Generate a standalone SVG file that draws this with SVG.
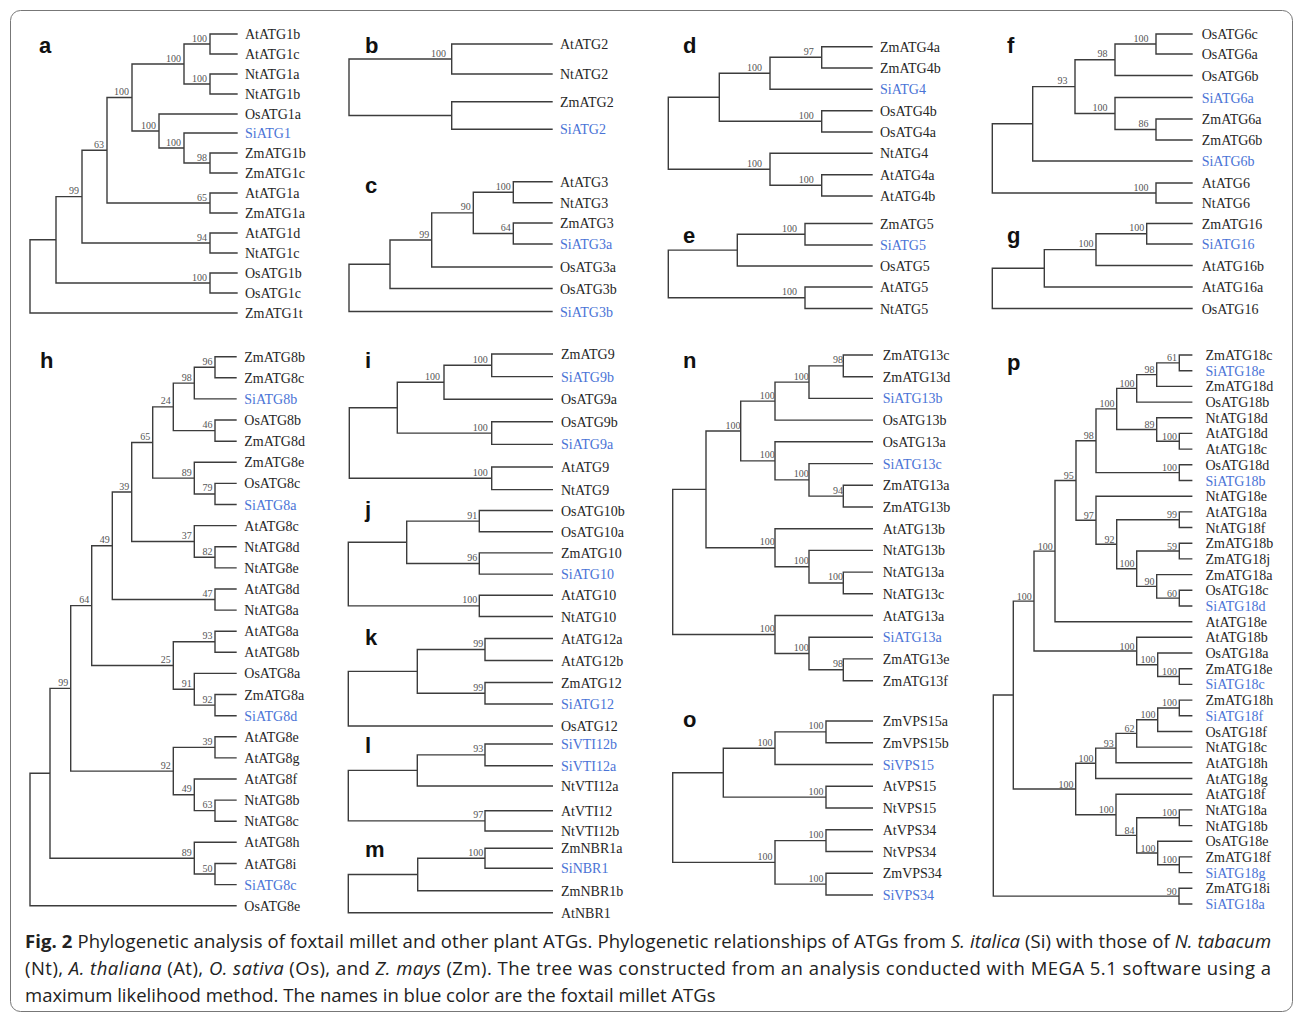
<svg xmlns="http://www.w3.org/2000/svg" width="1295" height="1014" viewBox="0 0 1295 1014">
<style>
.br{fill:none;stroke:#3c3c3c;stroke-width:1.4;stroke-linecap:square;stroke-linejoin:miter}
.lf{font-family:"Liberation Serif",serif;font-size:14px;fill:#262626}
.si{fill:#4a73d6}
.bs{font-family:"Liberation Serif",serif;font-size:10px;fill:#555;text-anchor:end}
.pl{font-family:"Liberation Sans",sans-serif;font-weight:bold;font-size:22px;fill:#111}
.cap{font-family:"Open Sans",sans-serif;font-size:18.5px;fill:#222}
.it{font-style:italic}
</style>
<rect x="10.5" y="10.5" width="1282" height="1001" rx="10" fill="#fff" stroke="#777" stroke-width="1"/>
<g id="connectors">
<path id="br-a" class="br" d="M237 34H210V54H237M237 74H210V94H237M210 44H184V84H210M237 153H210V173H237M237 133H184V163H210M237 114H159V148H184M184 64H132V131H159M237 193H210V213H237M132 97.5H107V203H210M237 233H210V253H237M107 150.25H82V243H210M237 273H210V293H237M82 196.6H56V283H210M56 239.8H30V313H237"/>
<path id="br-b" class="br" d="M552 44H451.7V74H552M552 101.7H451.7V129.3H552M451.7 59H349V115.5H451.7"/>
<path id="br-c" class="br" d="M552 181.7H513.3V202.7H552M552 223H513.3V244H552M513.3 192.2H473.3V233.5H513.3M473.3 212.9H431.7V267H552M431.7 240H390V288.5H552M390 264.2H349V311.5H552"/>
<path id="br-d" class="br" d="M872 46.7H821.7V68H872M821.7 57.3H770V89.3H872M872 110.7H821.7V132H872M770 73.3H719.3V121.3H821.7M872 174.7H821.7V196H872M872 153.3H770V185.3H821.7M719.3 97.3H668.3V169.3H770"/>
<path id="br-e" class="br" d="M872 223.5H805V245H872M805 234.25H737.3V266H872M872 287H805V308.5H872M737.3 250.1H668.3V297.75H805"/>
<path id="br-f" class="br" d="M1192 34H1156V54H1192M1156 44H1115V75.5H1192M1192 119H1156V140H1192M1192 97.5H1115V129.5H1156M1115 59.75H1075V113.5H1115M1075 86.6H1032.7V161H1192M1192 183H1156V203H1192M1032.7 123.8H992.3V193H1156"/>
<path id="br-g" class="br" d="M1192 223.5H1146.7V244H1192M1146.7 233.75H1096V265.5H1192M1096 249.6H1044.3V287H1192M1044.3 268.3H992.3V308.5H1192"/>
<path id="br-h" class="br" d="M236 356.7H215V377.8H236M215 367.25H194.3V398.9H236M236 420H215V441.2H236M194.3 383.1H173.3V430.6H215M236 483.4H215V504.5H236M236 462.3H194.3V493.95H215M173.3 406.85H152.7V478.1H194.3M236 546.7H215V567.9H236M236 525.6H194.3V557.3H215M152.7 442.5H131.7V541.45H194.3M236 589H215V610.1H236M131.7 492H112.3V599.55H215M236 631.2H215V652.3H236M236 694.5H215V715.7H236M236 673.4H194.3V705.1H215M215 641.75H173.3V689.25H194.3M112.3 545.8H91.7V665.5H173.3M236 736.8H215V757.9H236M236 800.1H215V821.2H236M236 779H194.3V810.65H215M215 747.35H173.3V794.8H194.3M91.7 605.65H70.7V771.1H173.3M236 863.5H215V884.6H236M236 842.3H194.3V874.05H215M70.7 688.4H50V858.2H194.3M50 773.3H30V905.7H236"/>
<path id="br-i" class="br" d="M552.3 354H491.7V376.6H552.3M491.7 365.3H444V399.2H552.3M552.3 421.8H491.7V444.4H552.3M444 382.25H397.3V433.1H491.7M552.3 467H491.7V489.6H552.3M397.3 407.7H349.3V478.3H491.7"/>
<path id="br-j" class="br" d="M552.3 510.5H479.3V531.7H552.3M552.3 552.9H479.3V574.1H552.3M479.3 521.1H406.7V563.5H479.3M552.3 595.3H479.3V616.5H552.3M406.7 542.3H348.3V605.9H479.3"/>
<path id="br-k" class="br" d="M552.3 638.5H485V660.5H552.3M552.3 682.5H485V704H552.3M485 649.5H417.3V693.25H485M417.3 671.4H348.3V726H552.3"/>
<path id="br-l" class="br" d="M552.3 744H485V765.7H552.3M485 754.85H417.3V786H552.3M552.3 810.7H485V831H552.3M417.3 770.4H348.3V820.85H485"/>
<path id="br-m" class="br" d="M552.3 848.3H485V868.3H552.3M485 858.3H417.7V890.7H552.3M417.7 874.5H348.3V912.7H552.3"/>
<path id="br-n" class="br" d="M872.3 355H843.3V376.7H872.3M843.3 365.85H809V398.4H872.3M809 382.1H775V420.1H872.3M872.3 485.3H843.3V507H872.3M872.3 463.6H809V496.15H843.3M872.3 441.8H775V479.9H809M775 401.1H740.7V460.85H775M872.3 572.1H843.3V593.8H872.3M872.3 550.4H809V582.95H843.3M872.3 528.7H775V566.7H809M740.7 431H706V547.7H775M872.3 658.9H843.3V680.7H872.3M872.3 637.2H809V669.8H843.3M872.3 615.5H775V653.5H809M706 489.35H672.7V634.5H775"/>
<path id="br-o" class="br" d="M872.3 721H826V742.75H872.3M826 731.9H775V764.5H872.3M872.3 786.25H826V808H872.3M775 748.2H723.3V797.1H826M872.3 829.75H826V851.5H872.3M872.3 873.25H826V895H872.3M826 840.6H775V884.1H826M723.3 772.7H672.7V862.4H775"/>
<path id="br-p" class="br" d="M1191.7 355H1179.3V370.7H1191.7M1179.3 362.85H1156.7V386.4H1191.7M1156.7 374.6H1136.7V402.1H1191.7M1191.7 433.4H1179.3V449.1H1191.7M1191.7 417.7H1156.7V441.25H1179.3M1136.7 388.35H1116.7V429.5H1156.7M1191.7 464.8H1179.3V480.5H1191.7M1116.7 408.9H1096V472.65H1179.3M1191.7 511.9H1179.3V527.5H1191.7M1191.7 543.2H1179.3V558.9H1191.7M1191.7 590.3H1179.3V606H1191.7M1191.7 574.6H1156.7V598.15H1179.3M1179.3 551.05H1136.7V586.4H1156.7M1179.3 519.7H1116.7V568.7H1136.7M1191.7 496.2H1096V544.2H1116.7M1096 440.8H1076V520.2H1096M1076 480.5H1055V621.7H1191.7M1191.7 668.7H1179.3V684.4H1191.7M1191.7 653H1157.7V676.55H1179.3M1191.7 637.3H1136.7V664.8H1157.7M1055 551.1H1034V651.05H1136.7M1191.7 700.1H1179.3V715.8H1191.7M1179.3 707.95H1157.7V731.5H1191.7M1157.7 719.7H1136.7V747.1H1191.7M1136.7 733.4H1116V762.8H1191.7M1116 748.1H1095.7V778.5H1191.7M1191.7 809.9H1179.3V825.6H1191.7M1191.7 856.9H1179.3V872.6H1191.7M1191.7 841.3H1157.7V864.75H1179.3M1179.3 817.75H1136.7V853H1157.7M1191.7 794.2H1116V835.4H1136.7M1095.7 763.3H1075.7V814.8H1116M1034 601.1H1013.3V789H1075.7M1191.7 888.3H1179V904H1191.7M1013.3 695H993.3V896.15H1179"/>
</g>
<g id="panel-a">
<text class="pl" x="39" y="53">a</text>
<g class="lf">
<text x="245" y="39">AtATG1b</text><text x="245" y="59">AtATG1c</text><text x="245" y="79">NtATG1a</text><text x="245" y="99">NtATG1b</text><text x="245" y="119">OsATG1a</text><text x="245" y="138" class="si">SiATG1</text><text x="245" y="158">ZmATG1b</text><text x="245" y="178">ZmATG1c</text><text x="245" y="198">AtATG1a</text><text x="245" y="218">ZmATG1a</text><text x="245" y="238">AtATG1d</text><text x="245" y="258">NtATG1c</text><text x="245" y="278">OsATG1b</text><text x="245" y="298">OsATG1c</text><text x="245" y="318">ZmATG1t</text>
</g>
<g class="bs">
<text x="207" y="41.5">100</text><text x="207" y="81.5">100</text><text x="181" y="61.5">100</text><text x="207" y="160.5">98</text><text x="181" y="145.5">100</text><text x="156" y="128.5">100</text><text x="129" y="95">100</text><text x="207" y="200.5">65</text><text x="104" y="147.8">63</text><text x="207" y="240.5">94</text><text x="79" y="194.1">99</text><text x="207" y="280.5">100</text>
</g>
</g>
<g id="panel-b">
<text class="pl" x="365" y="53">b</text>
<g class="lf">
<text x="560" y="49">AtATG2</text><text x="560" y="79">NtATG2</text><text x="560" y="106.7">ZmATG2</text><text x="560" y="134.3" class="si">SiATG2</text>
</g>
<g class="bs"><text x="446" y="56.5">100</text></g>
</g>
<g id="panel-c">
<text class="pl" x="365" y="193">c</text>
<g class="lf">
<text x="560" y="186.7">AtATG3</text><text x="560" y="207.7">NtATG3</text><text x="560" y="228">ZmATG3</text><text x="560" y="249" class="si">SiATG3a</text><text x="560" y="272">OsATG3a</text><text x="560" y="293.5">OsATG3b</text><text x="560" y="316.5" class="si">SiATG3b</text>
</g>
<g class="bs">
<text x="510.8" y="189.7">100</text><text x="510.8" y="231">64</text><text x="470.8" y="210.4">90</text><text x="429.2" y="237.5">99</text>
</g>
</g>
<g id="panel-d">
<text class="pl" x="683" y="53">d</text>
<g class="lf">
<text x="880" y="51.7">ZmATG4a</text><text x="880" y="73">ZmATG4b</text><text x="880" y="94.3" class="si">SiATG4</text><text x="880" y="115.7">OsATG4b</text><text x="880" y="137">OsATG4a</text><text x="880" y="158.3">NtATG4</text><text x="880" y="179.7">AtATG4a</text><text x="880" y="201">AtATG4b</text>
</g>
<g class="bs">
<text x="813.7" y="54.8">97</text><text x="762" y="70.8">100</text><text x="813.7" y="118.8">100</text><text x="813.7" y="182.8">100</text><text x="762" y="166.8">100</text>
</g>
</g>
<g id="panel-e">
<text class="pl" x="683" y="243">e</text>
<g class="lf">
<text x="880" y="228.5">ZmATG5</text><text x="880" y="250" class="si">SiATG5</text><text x="880" y="271">OsATG5</text><text x="880" y="292">AtATG5</text><text x="880" y="313.5">NtATG5</text>
</g>
<g class="bs"><text x="797" y="231.75">100</text><text x="797" y="295.25">100</text></g>
</g>
<g id="panel-f">
<text class="pl" x="1007" y="53">f</text>
<g class="lf">
<text x="1201.7" y="39">OsATG6c</text><text x="1201.7" y="59">OsATG6a</text><text x="1201.7" y="80.5">OsATG6b</text><text x="1201.7" y="102.5" class="si">SiATG6a</text><text x="1201.7" y="124">ZmATG6a</text><text x="1201.7" y="145">ZmATG6b</text><text x="1201.7" y="166" class="si">SiATG6b</text><text x="1201.7" y="188">AtATG6</text><text x="1201.7" y="208">NtATG6</text>
</g>
<g class="bs">
<text x="1148.5" y="41.5">100</text><text x="1107.5" y="57.25">98</text><text x="1148.5" y="127">86</text><text x="1107.5" y="111">100</text><text x="1067.5" y="84.1">93</text><text x="1148.5" y="190.5">100</text>
</g>
</g>
<g id="panel-g">
<text class="pl" x="1007" y="243">g</text>
<g class="lf">
<text x="1201.7" y="228.5">ZmATG16</text><text x="1201.7" y="249" class="si">SiATG16</text><text x="1201.7" y="270.5">AtATG16b</text><text x="1201.7" y="292">AtATG16a</text><text x="1201.7" y="313.5">OsATG16</text>
</g>
<g class="bs"><text x="1144.2" y="231.25">100</text><text x="1093.5" y="247.1">100</text></g>
</g>
<g id="panel-h">
<text class="pl" x="40" y="368">h</text>
<g class="lf">
<text x="244.3" y="361.7">ZmATG8b</text><text x="244.3" y="382.8">ZmATG8c</text><text x="244.3" y="403.9" class="si">SiATG8b</text><text x="244.3" y="425">OsATG8b</text><text x="244.3" y="446.2">ZmATG8d</text><text x="244.3" y="467.3">ZmATG8e</text><text x="244.3" y="488.4">OsATG8c</text><text x="244.3" y="509.5" class="si">SiATG8a</text><text x="244.3" y="530.6">AtATG8c</text><text x="244.3" y="551.7">NtATG8d</text><text x="244.3" y="572.9">NtATG8e</text><text x="244.3" y="594">AtATG8d</text><text x="244.3" y="615.1">NtATG8a</text><text x="244.3" y="636.2">AtATG8a</text><text x="244.3" y="657.3">AtATG8b</text><text x="244.3" y="678.4">OsATG8a</text><text x="244.3" y="699.5">ZmATG8a</text><text x="244.3" y="720.7" class="si">SiATG8d</text><text x="244.3" y="741.8">AtATG8e</text><text x="244.3" y="762.9">AtATG8g</text><text x="244.3" y="784">AtATG8f</text><text x="244.3" y="805.1">NtATG8b</text><text x="244.3" y="826.2">NtATG8c</text><text x="244.3" y="847.3">AtATG8h</text><text x="244.3" y="868.5">AtATG8i</text><text x="244.3" y="889.6" class="si">SiATG8c</text><text x="244.3" y="910.7">OsATG8e</text>
</g>
<g class="bs">
<text x="212.5" y="364.75">96</text><text x="191.8" y="380.6">98</text><text x="212.5" y="428.1">46</text><text x="170.8" y="404.35">24</text><text x="212.5" y="491.45">79</text><text x="191.8" y="475.6">89</text><text x="150.2" y="440">65</text><text x="212.5" y="554.8">82</text><text x="191.8" y="538.95">37</text><text x="129.2" y="489.5">39</text><text x="212.5" y="597.05">47</text><text x="109.8" y="543.3">49</text><text x="212.5" y="639.25">93</text><text x="212.5" y="702.6">92</text><text x="191.8" y="686.75">91</text><text x="170.8" y="663">25</text><text x="89.2" y="603.15">64</text><text x="212.5" y="744.85">39</text><text x="212.5" y="808.15">63</text><text x="191.8" y="792.3">49</text><text x="170.8" y="768.6">92</text><text x="68.2" y="685.9">99</text><text x="212.5" y="871.55">50</text><text x="191.8" y="855.7">89</text>
</g>
</g>
<g id="panel-i">
<text class="pl" x="365" y="368">i</text>
<g class="lf">
<text x="561" y="359">ZmATG9</text><text x="561" y="381.6" class="si">SiATG9b</text><text x="561" y="404.2">OsATG9a</text><text x="561" y="426.8">OsATG9b</text><text x="561" y="449.4" class="si">SiATG9a</text><text x="561" y="472">AtATG9</text><text x="561" y="494.6">NtATG9</text>
</g>
<g class="bs"><text x="487.7" y="362.8">100</text><text x="440" y="379.75">100</text><text x="487.7" y="430.6">100</text><text x="487.7" y="475.8">100</text></g>
</g>
<g id="panel-j">
<text class="pl" x="365" y="517">j</text>
<g class="lf">
<text x="561" y="515.5">OsATG10b</text><text x="561" y="536.7">OsATG10a</text><text x="561" y="557.9">ZmATG10</text><text x="561" y="579.1" class="si">SiATG10</text><text x="561" y="600.3">AtATG10</text><text x="561" y="621.5">NtATG10</text>
</g>
<g class="bs"><text x="477.3" y="518.6">91</text><text x="477.3" y="561">96</text><text x="477.3" y="603.4">100</text></g>
</g>
<g id="panel-k">
<text class="pl" x="365" y="645">k</text>
<g class="lf">
<text x="561" y="643.5">AtATG12a</text><text x="561" y="665.5">AtATG12b</text><text x="561" y="687.5">ZmATG12</text><text x="561" y="709" class="si">SiATG12</text><text x="561" y="731">OsATG12</text>
</g>
<g class="bs"><text x="483.3" y="647">99</text><text x="483.3" y="690.75">99</text></g>
</g>
<g id="panel-l">
<text class="pl" x="365" y="753">l</text>
<g class="lf">
<text x="561" y="749" class="si">SiVTI12b</text><text x="561" y="770.7" class="si">SiVTI12a</text><text x="561" y="791">NtVTI12a</text><text x="561" y="815.7">AtVTI12</text><text x="561" y="836">NtVTI12b</text>
</g>
<g class="bs"><text x="483.3" y="752.35">93</text><text x="483.3" y="818.35">97</text></g>
</g>
<g id="panel-m">
<text class="pl" x="365" y="857">m</text>
<g class="lf">
<text x="561" y="853.3">ZmNBR1a</text><text x="561" y="873.3" class="si">SiNBR1</text><text x="561" y="895.7">ZmNBR1b</text><text x="561" y="917.7">AtNBR1</text>
</g>
<g class="bs"><text x="483.3" y="855.8">100</text></g>
</g>
<g id="panel-n">
<text class="pl" x="683" y="368">n</text>
<g class="lf">
<text x="882.7" y="360">ZmATG13c</text><text x="882.7" y="381.7">ZmATG13d</text><text x="882.7" y="403.4" class="si">SiATG13b</text><text x="882.7" y="425.1">OsATG13b</text><text x="882.7" y="446.8">OsATG13a</text><text x="882.7" y="468.6" class="si">SiATG13c</text><text x="882.7" y="490.3">ZmATG13a</text><text x="882.7" y="512">ZmATG13b</text><text x="882.7" y="533.7">AtATG13b</text><text x="882.7" y="555.4">NtATG13b</text><text x="882.7" y="577.1">NtATG13a</text><text x="882.7" y="598.8">NtATG13c</text><text x="882.7" y="620.5">AtATG13a</text><text x="882.7" y="642.2" class="si">SiATG13a</text><text x="882.7" y="663.9">ZmATG13e</text><text x="882.7" y="685.7">ZmATG13f</text>
</g>
<g class="bs">
<text x="843" y="363.35">98</text><text x="808.7" y="379.6">100</text><text x="774.7" y="398.6">100</text><text x="843" y="493.65">94</text><text x="808.7" y="477.4">100</text><text x="774.7" y="458.35">100</text><text x="740.4" y="428.5">100</text><text x="843" y="580.45">100</text><text x="808.7" y="564.2">100</text><text x="774.7" y="545.2">100</text><text x="843" y="667.3">98</text><text x="808.7" y="651">100</text><text x="774.7" y="632">100</text>
</g>
</g>
<g id="panel-o">
<text class="pl" x="683" y="727">o</text>
<g class="lf">
<text x="882.7" y="726">ZmVPS15a</text><text x="882.7" y="747.75">ZmVPS15b</text><text x="882.7" y="769.5" class="si">SiVPS15</text><text x="882.7" y="791.25">AtVPS15</text><text x="882.7" y="813">NtVPS15</text><text x="882.7" y="834.75">AtVPS34</text><text x="882.7" y="856.5">NtVPS34</text><text x="882.7" y="878.25">ZmVPS34</text><text x="882.7" y="900" class="si">SiVPS34</text>
</g>
<g class="bs">
<text x="823.5" y="729.4">100</text><text x="772.5" y="745.7">100</text><text x="823.5" y="794.6">100</text><text x="823.5" y="838.1">100</text><text x="823.5" y="881.6">100</text><text x="772.5" y="859.9">100</text>
</g>
</g>
<g id="panel-p">
<text class="pl" x="1007" y="370">p</text>
<g class="lf">
<text x="1205.5" y="360">ZmATG18c</text><text x="1205.5" y="375.7" class="si">SiATG18e</text><text x="1205.5" y="391.4">ZmATG18d</text><text x="1205.5" y="407.1">OsATG18b</text><text x="1205.5" y="422.7">NtATG18d</text><text x="1205.5" y="438.4">AtATG18d</text><text x="1205.5" y="454.1">AtATG18c</text><text x="1205.5" y="469.8">OsATG18d</text><text x="1205.5" y="485.5" class="si">SiATG18b</text><text x="1205.5" y="501.2">NtATG18e</text><text x="1205.5" y="516.9">AtATG18a</text><text x="1205.5" y="532.5">NtATG18f</text><text x="1205.5" y="548.2">ZmATG18b</text><text x="1205.5" y="563.9">ZmATG18j</text><text x="1205.5" y="579.6">ZmATG18a</text><text x="1205.5" y="595.3">OsATG18c</text><text x="1205.5" y="611" class="si">SiATG18d</text><text x="1205.5" y="626.7">AtATG18e</text><text x="1205.5" y="642.3">AtATG18b</text><text x="1205.5" y="658">OsATG18a</text><text x="1205.5" y="673.7">ZmATG18e</text><text x="1205.5" y="689.4" class="si">SiATG18c</text><text x="1205.5" y="705.1">ZmATG18h</text><text x="1205.5" y="720.8" class="si">SiATG18f</text><text x="1205.5" y="736.5">OsATG18f</text><text x="1205.5" y="752.1">NtATG18c</text><text x="1205.5" y="767.8">AtATG18h</text><text x="1205.5" y="783.5">AtATG18g</text><text x="1205.5" y="799.2">AtATG18f</text><text x="1205.5" y="814.9">NtATG18a</text><text x="1205.5" y="830.6">NtATG18b</text><text x="1205.5" y="846.3">OsATG18e</text><text x="1205.5" y="861.9">ZmATG18f</text><text x="1205.5" y="877.6" class="si">SiATG18g</text><text x="1205.5" y="893.3">ZmATG18i</text><text x="1205.5" y="909" class="si">SiATG18a</text>
</g>
<g class="bs">
<text x="1177" y="361.3">61</text><text x="1154.4" y="373.1">98</text><text x="1134.4" y="386.85">100</text><text x="1177" y="439.75">100</text><text x="1154.4" y="428">89</text><text x="1114.4" y="407.4">100</text><text x="1177" y="471.15">100</text><text x="1093.7" y="439.3">98</text><text x="1177" y="518.2">99</text><text x="1177" y="549.55">59</text><text x="1177" y="596.65">60</text><text x="1154.4" y="584.9">90</text><text x="1134.4" y="567.2">100</text><text x="1114.4" y="542.7">92</text><text x="1093.7" y="518.7">97</text><text x="1073.7" y="479">95</text><text x="1052.7" y="549.6">100</text><text x="1177" y="675.05">100</text><text x="1155.4" y="663.3">100</text><text x="1134.4" y="649.55">100</text><text x="1031.7" y="599.6">100</text><text x="1177" y="706.45">100</text><text x="1155.4" y="718.2">100</text><text x="1134.4" y="731.9">62</text><text x="1113.7" y="746.6">93</text><text x="1093.4" y="761.8">100</text><text x="1177" y="816.25">100</text><text x="1177" y="863.25">100</text><text x="1155.4" y="851.5">100</text><text x="1134.4" y="833.9">84</text><text x="1113.7" y="813.3">100</text><text x="1073.4" y="787.5">100</text><text x="1176.7" y="894.65">90</text>
</g>
</g>
<g id="caption" class="cap">
<text x="25" y="948" textLength="1246" lengthAdjust="spacing"><tspan font-weight="bold">Fig. 2</tspan> Phylogenetic analysis of foxtail millet and other plant ATGs. Phylogenetic relationships of ATGs from <tspan class="it">S. italica</tspan> (Si) with those of <tspan class="it">N. tabacum</tspan></text>
<text x="25" y="975" textLength="1246" lengthAdjust="spacing">(Nt), <tspan class="it">A. thaliana</tspan> (At), <tspan class="it">O. sativa</tspan> (Os), and <tspan class="it">Z. mays</tspan> (Zm). The tree was constructed from an analysis conducted with MEGA 5.1 software using a</text>
<text x="25" y="1002">maximum likelihood method. The names in blue color are the foxtail millet ATGs</text>
</g>
</svg>
